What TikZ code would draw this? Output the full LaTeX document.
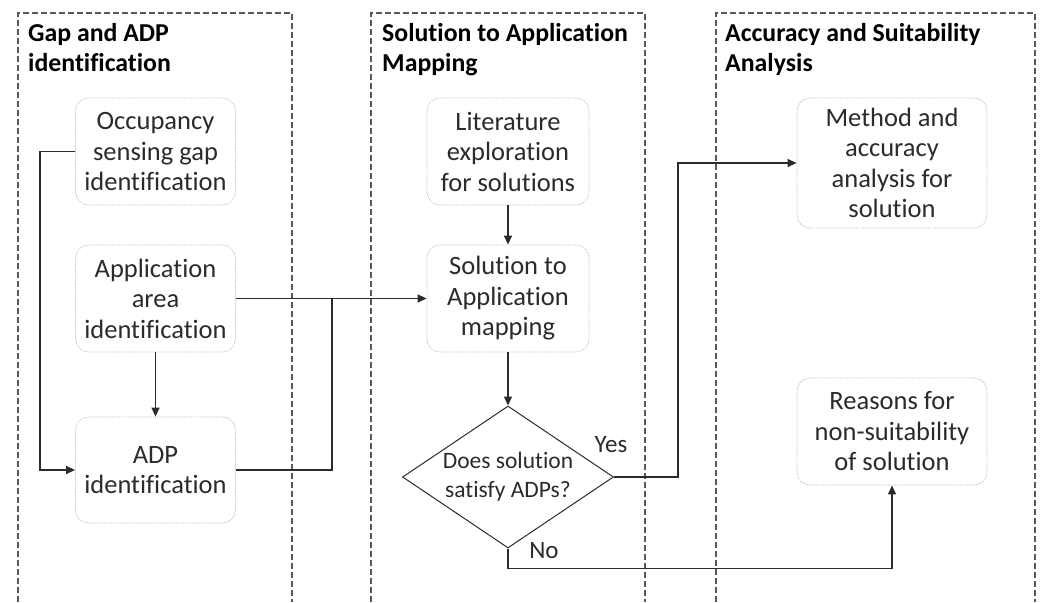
\documentclass[tikz,border=0pt]{standalone}
\usepackage{fontspec}
\setmainfont[Ligatures=NoCommon]{Carlito}
\usetikzlibrary{shapes.geometric,arrows.meta}
\definecolor{ink}{HTML}{2B2B2B}
\definecolor{lane}{HTML}{585858}
\definecolor{boxline}{HTML}{B8B8B8}
\begin{document}
\begin{tikzpicture}[x=1pt,y=-1pt,
  stepbox/.style={draw=boxline,densely dotted,line width=0.8pt,rounded corners=13pt,
    align=center,text=ink,inner sep=0pt,
    font=\fontsize{26.5}{30.5}\selectfont},
  decision/.style={draw=ink,line width=1pt,diamond,aspect=1.486,inner sep=0pt,
    minimum width=211pt,minimum height=142pt,align=center,text=ink,
    font=\fontsize{23.5}{29}\selectfont},
  lanetitle/.style={anchor=north west,align=left,inner sep=0pt,
    font=\fontsize{25.8}{30}\selectfont\bfseries},
  lanebox/.style={draw=lane,dashed,dash pattern=on 6pt off 3pt,line width=1.1pt},
  flow/.style={draw=ink,line width=1.3pt},
  arrow/.style={flow,-{Triangle[length=9pt,width=8pt]}},
  tag/.style={text=ink,inner sep=0pt,font=\fontsize{25}{30}\selectfont}]
\useasboundingbox (0,0) rectangle (1043,602);
\fill[white] (0,0) rectangle (1043,602);

% swim lanes (open at the bottom)
\draw[lanebox] (18,602) -- (18,13) -- (292,13) -- (292,602);
\draw[lanebox] (371,602) -- (371,13) -- (645,13) -- (645,602);
\draw[lanebox] (716,602) -- (716,13) -- (1035,13) -- (1035,602);

\node[lanetitle] (t1) at (28,23) {Gap and ADP\\identification};
\node[lanetitle] (t2) at (382,23) {Solution to Application\\Mapping};
\node[lanetitle] (t3) at (725,23) {Accuracy and Suitability\\Analysis};

% process steps
\node[stepbox,minimum width=160pt,minimum height=107pt] (occ) at (155.5,151.5)
  {Occupancy\\sensing gap\\identification};
\node[stepbox,minimum width=160pt,minimum height=107pt] (app) at (155.5,298.5)
  {Application\\area\\identification};
\node[stepbox,minimum width=160pt,minimum height=106pt] (adp) at (155.5,470)
  {ADP\\identification};
\node[stepbox,minimum width=162pt,minimum height=107pt] (lit) at (508,151.5)
  {Literature\\exploration\\for solutions};
\node[stepbox,minimum width=162pt,minimum height=107pt] (map) at (508,298.5)
  {Solution to\\Application\\mapping};
\node[decision] (dec) at (508,477) {Does solution\\satisfy ADPs?};
\node[stepbox,minimum width=190pt,minimum height=130pt] (meth) at (892,163)
  {Method and\\accuracy\\analysis for\\solution};
\node[stepbox,minimum width=190pt,minimum height=107pt] (why) at (892,431.5)
  {Reasons for\\non-suitability\\of solution};

% connectors
\coordinate (join) at (332,298.5);
\draw[arrow] (occ.west) -- ++(-35,0) |- (adp.west);
\draw[arrow] (app.south) -- (adp.north);
\draw[arrow] (app.east) -- (map.west);
\draw[flow] (adp.east) -| (join);
\draw[arrow] (lit.south) -- (map.north);
\draw[arrow] (map.south) -- (dec.north);
\draw[arrow] (dec.east) -- ++(64,0) |- (meth.west);
\draw[arrow] (dec.south) -- ++(0,20) -| (why.south);

\node[tag] (yes) at (611,445) {Yes};
\node[tag] (no) at (544,551) {No};
\end{tikzpicture}
\end{document}
